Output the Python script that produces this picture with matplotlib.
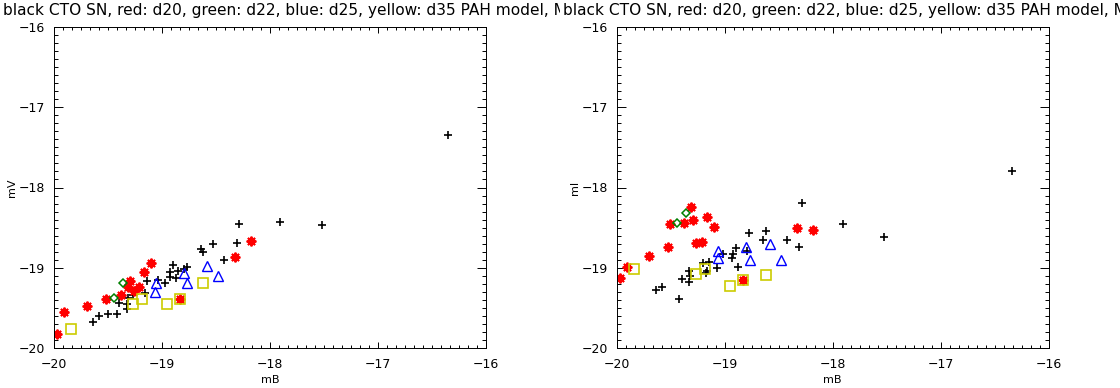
import matplotlib
matplotlib.use('Agg')
import matplotlib.pyplot as plt
from matplotlib.ticker import MultipleLocator
from matplotlib.transforms import Bbox

title = 'black CTO SN, red: d20, green: d22, blue: d25, yellow: d35 PAH model, MW'

# left panel: mV vs mB
cto_mb_v = [-19.632, -19.576, -19.493, -19.415, -19.317, -19.317, -19.391, -19.308, -19.262,
            -19.154, -19.138, -19.031, -18.969, -18.922, -18.922, -18.892, -18.867, -18.846,
            -18.793, -18.768, -18.638, -18.614, -18.527, -18.423, -18.300, -18.281, -17.905,
            -17.519, -16.351]
cto_mv = [-19.672, -19.598, -19.573, -19.580, -19.514, -19.452, -19.436, -19.381, -19.340,
          -19.311, -19.161, -19.153, -19.194, -19.112, -19.049, -18.970, -19.131, -19.037,
          -19.019, -18.994, -18.770, -18.800, -18.704, -18.903, -18.688, -18.455, -18.434,
          -18.467, -17.346]
d20_mb_v = [-19.965, -19.903, -19.693, -19.514, -19.378, -19.314, -19.292, -19.253, -19.206,
            -19.160, -19.095, -18.830, -18.321, -18.176]
d20_mv = [-19.826, -19.548, -19.477, -19.386, -19.340, -19.236, -19.165, -19.290, -19.244,
          -19.057, -18.945, -19.393, -18.862, -18.663]
d22_mb_v = [-19.360, -19.440]
d22_mv = [-19.186, -19.381]
d25_mb_v = [-19.061, -19.052, -18.793, -18.768, -18.583, -18.475]
d25_mv = [-19.298, -19.194, -19.069, -19.194, -18.978, -19.103]
d35_mb_v = [-19.838, -19.262, -19.181, -18.947, -18.830, -18.614]
d35_mv = [-19.760, -19.452, -19.393, -19.452, -19.393, -19.194]

# right panel: mI vs mB
cto_mb_i = [-19.635, -19.582, -19.419, -19.397, -19.326, -19.326, -19.197, -19.172, -19.141,
            -19.073, -19.018, -18.934, -18.925, -18.894, -18.873, -18.790, -18.771, -18.642,
            -18.617, -18.420, -18.309, -18.281, -17.907, -17.523, -16.341, -19.160, -19.320]
cto_mi = [-19.277, -19.244, -19.393, -19.144, -19.174, -19.040, -18.937, -19.069, -18.925,
          -19.000, -18.829, -18.882, -18.829, -18.758, -18.994, -18.791, -18.571, -18.654,
          -18.538, -18.654, -18.745, -18.197, -18.455, -18.621, -17.794, -19.040, -19.100]
d20_mb_i = [-19.968, -19.906, -19.697, -19.526, -19.505, -19.376, -19.314, -19.290, -19.265,
            -19.212, -19.166, -19.098, -18.833, -18.327, -18.179]
d20_mi = [-19.131, -18.987, -18.854, -18.745, -18.455, -18.446, -18.239, -18.405, -18.688,
          -18.675, -18.364, -18.488, -19.153, -18.508, -18.530]
d22_mb_i = [-19.357, -19.443]
d22_mi = [-18.322, -18.446]
d25_mb_i = [-19.058, -19.064, -18.802, -18.765, -18.580, -18.478]
d25_mi = [-18.788, -18.875, -18.745, -18.903, -18.704, -18.903]
d35_mb_i = [-19.838, -19.265, -19.181, -18.950, -18.833, -18.617]
d35_mi = [-19.016, -19.082, -19.019, -19.227, -19.153, -19.094]

fig = plt.figure(figsize=(11.2, 3.88), dpi=100)


def setup(ax, ylab):
    ax.set_xlim(-20, -16)
    ax.set_ylim(-20, -16)
    ax.xaxis.set_major_locator(MultipleLocator(1))
    ax.xaxis.set_minor_locator(MultipleLocator(1 / 12))
    ax.yaxis.set_major_locator(MultipleLocator(1))
    ax.yaxis.set_minor_locator(MultipleLocator(0.1))
    ax.tick_params(which='both', direction='in', top=True, right=True, width=0.7,
                   labelsize=9, color='black')
    ax.tick_params(axis='x', which='major', length=4.5, pad=7)
    ax.tick_params(axis='x', which='minor', length=2.2)
    ax.tick_params(axis='y', which='major', length=6.2, pad=6)
    ax.tick_params(axis='y', which='minor', length=3.1)
    for s in ax.spines.values():
        s.set_linewidth(0.7)
    ax.set_xlabel('mB', fontsize=8, labelpad=3)
    ax.set_ylabel(ylab, fontsize=8)
    ax.yaxis.set_label_coords(-0.085, 0.5)


def draw(ax, series):
    for (x, y), kw in series:
        ax.plot(x, y, linestyle='none', clip_on=True, **kw)


plus = dict(marker='+', color='black', markersize=6, mew=1.2)
star = dict(marker=(8, 2, 0), color='#ff0000', markersize=7, mew=1.4)
diam = dict(marker='D', mfc='none', mec='#007f00', markersize=4.5, mew=1.1)
tri = dict(marker='^', mfc='none', mec='#0000ff', markersize=7, mew=1.0)
sq = dict(marker='s', mfc='none', mec='#cccc00', markersize=7, mew=1.2)

ax1 = fig.add_axes([53.5 / 1120, 40 / 388, 432.5 / 1120, 321 / 388])
setup(ax1, 'mV')
draw(ax1, [((cto_mb_v, cto_mv), plus), ((d20_mb_v, d20_mv), star), ((d22_mb_v, d22_mv), diam),
           ((d25_mb_v, d25_mv), tri), ((d35_mb_v, d35_mv), sq)])

ax2 = fig.add_axes([616.5 / 1120, 40 / 388, 432.5 / 1120, 321 / 388])
setup(ax2, 'mI')
draw(ax2, [((cto_mb_i, cto_mi), plus), ((d20_mb_i, d20_mi), star), ((d22_mb_i, d22_mi), diam),
           ((d25_mb_i, d25_mi), tri), ((d35_mb_i, d35_mi), sq)])

# titles, each cut off at the edge of its own half, as in the source images
t1 = fig.text(3 / 1120, 1 - 10 / 388, title, fontsize=11.1, ha='left', va='center')
t1.set_clip_box(Bbox([[0, 0], [560, 388]]))
t1.set_clip_on(True)
t2 = fig.text(563 / 1120, 1 - 10 / 388, title, fontsize=11.1, ha='left', va='center')
t2.set_clip_box(Bbox([[560, 0], [1120, 388]]))
t2.set_clip_on(True)

fig.savefig('out.png', dpi=100)
